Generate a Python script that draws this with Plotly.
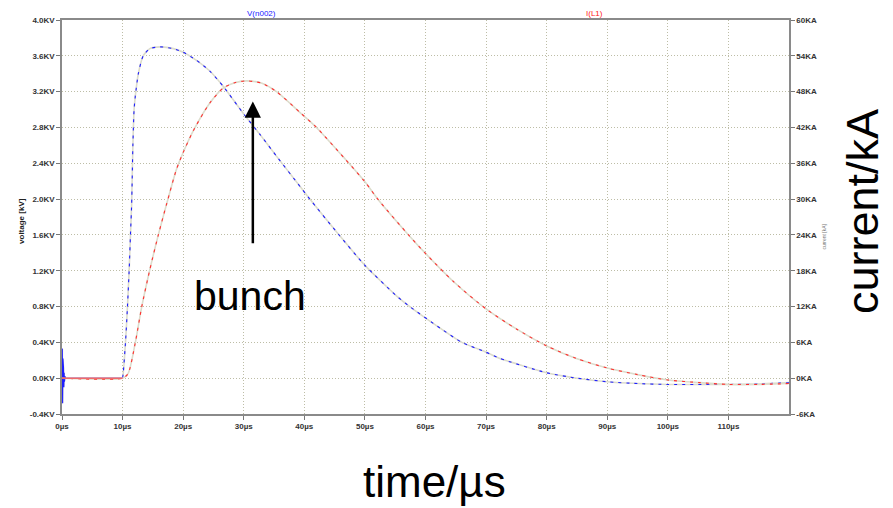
import plotly.graph_objects as go

# ---- data ----
v_time = [0, 0.05, 0.1, 0.15, 0.2, 0.25, 0.3, 0.35, 0.4, 0.5, 0.6,
          10.0, 10.1, 10.5, 10.8, 11.1, 11.3, 11.5, 11.7, 11.9, 12.1, 12.6, 13.4, 14.5,
          16.2, 18.4, 20, 22.2, 24.4, 26.6, 30, 32.7, 35.4, 39.3, 40.9, 45.6, 50, 55.2,
          57.4, 62.4, 66, 70, 72.3, 80, 85, 90, 95, 100, 110, 115, 120]
v_kv = [0, 0.33, -0.28, 0.22, -0.18, 0.12, -0.1, 0.06, -0.04, 0.02, 0,
        0, 0.05, 0.42, 0.79, 1.23, 1.60, 1.95, 2.6, 3.0, 3.15, 3.40, 3.60, 3.68,
        3.70, 3.68, 3.64, 3.55, 3.43, 3.26, 2.95, 2.72, 2.48, 2.14, 2.00, 1.61, 1.26, 0.92,
        0.80, 0.56, 0.40, 0.29, 0.22, 0.06, 0.0, -0.04, -0.06, -0.07, -0.07, -0.065, -0.05]

i_time = [0, 10, 10.9, 12.05, 13.15, 14.5, 15.9, 17.3, 18.9, 20, 21.7, 24.4, 26.6,
          28.5, 30.5, 33, 35.4, 39.3, 42, 46.7, 50, 52.2, 57.2, 60, 64.6, 70, 75, 80,
          84.9, 90, 95, 100, 105.3, 110, 115, 120]
i_ka = [0, 0, 0.75, 5.7, 11.9, 18.2, 24.0, 29.3, 35.0, 37.8, 41.5, 46.1, 48.6,
        49.5, 49.8, 49.4, 48.0, 44.5, 42.0, 36.75, 32.9, 29.9, 24.0, 20.9, 16.2, 11.6, 8.25, 5.4,
        3.3, 1.7, 0.6, -0.3, -0.75, -1.05, -1.05, -0.9]

x_ticks = [0, 10, 20, 30, 40, 50, 60, 70, 80, 90, 100, 110]
x_labels = ["0µs", "10µs", "20µs", "30µs", "40µs", "50µs", "60µs", "70µs", "80µs", "90µs", "100µs", "110µs"]
y_ticks = [-0.4, 0.0, 0.4, 0.8, 1.2, 1.6, 2.0, 2.4, 2.8, 3.2, 3.6, 4.0]
y_labels = ["-0.4KV", "0.0KV", "0.4KV", "0.8KV", "1.2KV", "1.6KV", "2.0KV", "2.4KV", "2.8KV", "3.2KV", "3.6KV", "4.0KV"]
y2_ticks = [-6, 0, 6, 12, 18, 24, 30, 36, 42, 48, 54, 60]
y2_labels = ["-6KA", "0KA", "6KA", "12KA", "18KA", "24KA", "30KA", "36KA", "42KA", "48KA", "54KA", "60KA"]

tickfont = dict(family="Liberation Sans Narrow, Arial Narrow, Liberation Sans, Arial", size=8,
                color="#333333", weight="bold")

n_osc = 11  # leading ring-down points of the voltage trace (kept linear)

fig = go.Figure()
# pale underlying traces
fig.add_trace(go.Scatter(x=v_time[:n_osc + 1], y=v_kv[:n_osc + 1], mode="lines",
                         line=dict(color="#dcdccc", width=1.6), hoverinfo="skip", showlegend=False))
fig.add_trace(go.Scatter(x=v_time[n_osc:], y=v_kv[n_osc:], mode="lines",
                         line=dict(color="#dcdccc", width=1.6, shape="spline", smoothing=0.6),
                         hoverinfo="skip", showlegend=False))
fig.add_trace(go.Scatter(x=i_time, y=i_ka, mode="lines", yaxis="y2",
                         line=dict(color="#dcdccc", width=1.6, shape="spline", smoothing=0.7),
                         hoverinfo="skip", showlegend=False))
# coloured traces
fig.add_trace(go.Scatter(x=v_time[:n_osc + 1], y=v_kv[:n_osc + 1], mode="lines",
                         line=dict(color="#1f1fff", width=1.1), showlegend=False))
fig.add_trace(go.Scatter(x=v_time[n_osc:], y=v_kv[n_osc:], mode="lines", name="V(n002)",
                         line=dict(color="#1f1fff", width=1.1, dash="3px,5px", shape="spline", smoothing=0.6)))
fig.add_trace(go.Scatter(x=i_time, y=i_ka, mode="lines", name="I(L1)", yaxis="y2",
                         line=dict(color="#ff3030", width=1.1, dash="3px,5px", shape="spline", smoothing=0.7)))
# solid red baseline section 0..10 µs
fig.add_trace(go.Scatter(x=i_time[:2], y=i_ka[:2], mode="lines", yaxis="y2", showlegend=False,
                         line=dict(color="#f06a6a", width=1.5), hoverinfo="skip"))

grid = dict(showgrid=True, gridcolor="#bdbda6", griddash="1px,2px", gridwidth=1)

# page body has an 8px margin, so the figure is 8px smaller and margins shifted
fig.update_layout(
    width=885, height=500,
    margin=dict(l=54, r=104, t=8, b=94),
    paper_bgcolor="white", plot_bgcolor="white",
    showlegend=False,
    xaxis=dict(range=[0, 120], tickvals=x_ticks, ticktext=x_labels, tickfont=tickfont,
               ticks="outside", ticklen=4, tickcolor="#777", showline=True, mirror=True,
               linecolor="#8a8a8a", linewidth=1.5, zeroline=False, **grid),
    yaxis=dict(range=[-0.4, 4.0], tickvals=y_ticks, ticktext=y_labels, tickfont=tickfont,
               ticks="outside", ticklen=4, tickcolor="#777", showline=True, mirror=True,
               linecolor="#8a8a8a", linewidth=1.5, zeroline=False, **grid),
    yaxis2=dict(range=[-6, 60], tickvals=y2_ticks, ticktext=y2_labels, tickfont=tickfont,
                overlaying="y", side="right", ticks="outside", ticklen=4, tickcolor="#777",
                showgrid=False, zeroline=False, showline=True, linecolor="#8a8a8a", linewidth=1.5),
)

big = dict(family="Liberation Sans, Arial", color="black")
ann = [
    dict(xref="paper", yref="paper", x=0.513, y=-0.171, text="time/µs", showarrow=False,
         font=dict(size=44, **big), xanchor="center", yanchor="middle"),
    dict(xref="paper", yref="paper", x=1.102, y=0.513, text="current/kA", showarrow=False,
         textangle=-90, font=dict(size=45, **big), xanchor="center", yanchor="middle"),
    dict(xref="x", yref="y", x=31.0, y=0.92, text="bunch", showarrow=False,
         font=dict(size=41, **big), xanchor="center", yanchor="middle"),
    dict(xref="paper", yref="paper", x=-0.055, y=0.49, text="voltage [kV]", showarrow=False,
         textangle=-90, xanchor="center", yanchor="middle",
         font=dict(size=8, family="Liberation Sans Narrow, Liberation Sans", color="#222", weight="bold")),
    dict(xref="paper", yref="paper", x=1.048, y=0.45, text="current [kA]", showarrow=False,
         textangle=-90, xanchor="center", yanchor="middle",
         font=dict(size=5, family="Liberation Sans", color="#777")),
    dict(xref="paper", yref="paper", x=0.252, y=1.0, text="V(n002)", showarrow=False,
         font=dict(size=8, family="Liberation Sans Narrow, Liberation Sans", color="#2020ff"),
         yanchor="bottom"),
    dict(xref="paper", yref="paper", x=0.747, y=1.0, text="I(L1)", showarrow=False,
         font=dict(size=8, family="Liberation Sans Narrow, Liberation Sans", color="#ff2020"),
         yanchor="bottom"),
    dict(xref="x", yref="y", x=31.5, y=3.09, axref="x", ayref="y", ax=31.5, ay=1.49,
         text="", showarrow=True, arrowhead=2, arrowsize=1.3, arrowwidth=2.5, arrowcolor="black"),
]
fig.update_layout(annotations=ann)

fig.write_html("out.html")
